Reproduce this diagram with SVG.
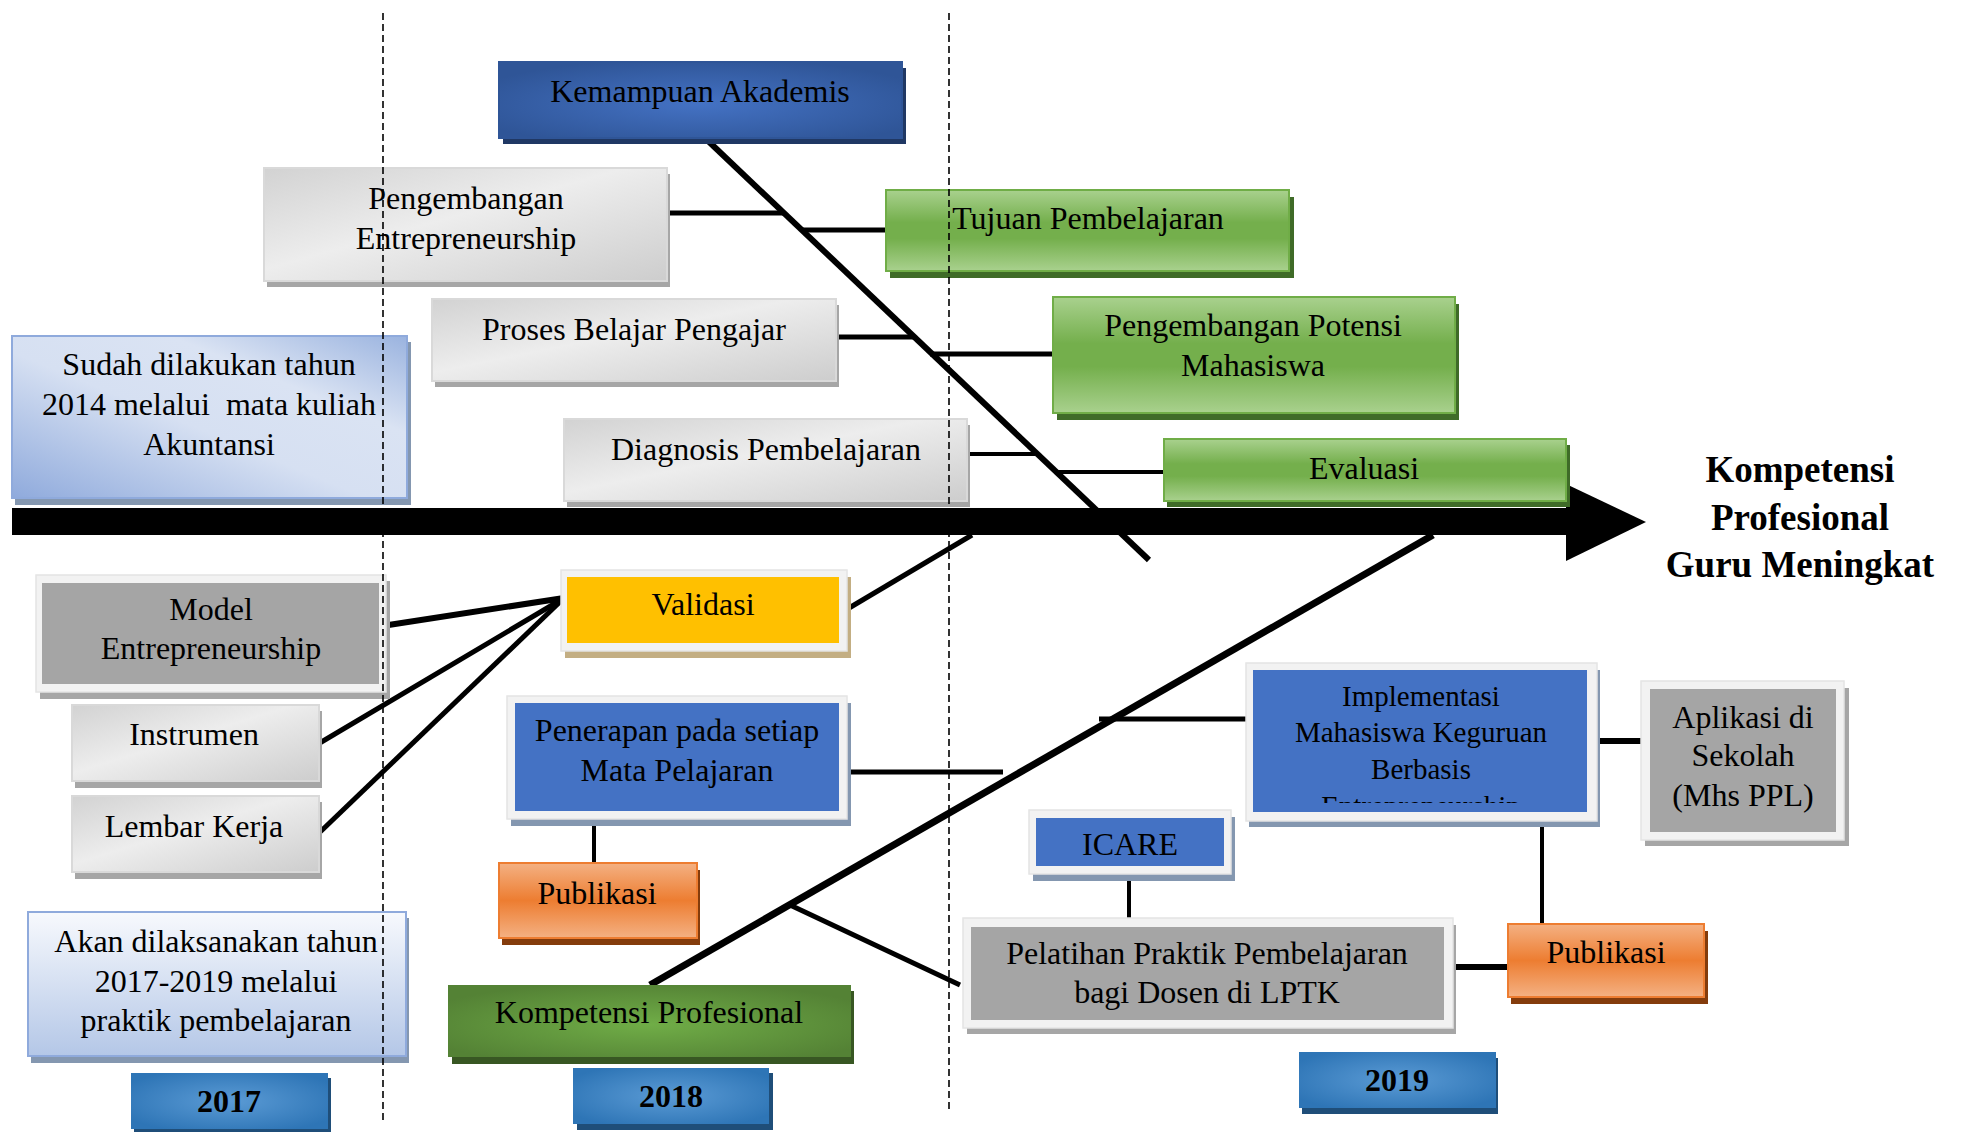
<svg xmlns="http://www.w3.org/2000/svg" width="1961" height="1132" viewBox="0 0 1961 1132">
<style>
text{font-family:"Liberation Serif","Times New Roman",serif;font-size:32px;fill:#000;text-anchor:middle}
.t29{font-size:29px}
.bold{font-weight:bold}
.title{font-weight:bold;font-size:37px}
.ln{stroke:#000;stroke-width:5;fill:none;stroke-linecap:butt}
.bone{stroke:#000;stroke-width:7;fill:none}
.dash{stroke:#000;stroke-width:1.6;stroke-dasharray:7 4;fill:none}
.shGray{fill:#a6a6a6}
.shBlue{fill:#8497b0}
.frame{fill:#f2f2f2;stroke:#e4e4e4;stroke-width:1.5}
.gray{fill:url(#gGray);stroke:#d9d9d9;stroke-width:2}
.green{fill:url(#gGreen);stroke:#70ad47;stroke-width:2}
.shGreen{fill:#3f6b28}
.orange{fill:url(#gOrange);stroke:#ed7d31;stroke-width:2}
.shOrange{fill:#843c0c}
.year{fill:url(#gYear)}
.shYear{fill:#1f4e79}
</style>
<defs>
<linearGradient id="gGray" x1="0" y1="0" x2="1" y2="1">
<stop offset="0" stop-color="#d2d2d2"/>
<stop offset="0.45" stop-color="#ededed"/>
<stop offset="1" stop-color="#cdcdcd"/>
</linearGradient>
<linearGradient id="gGreen" x1="0" y1="0" x2="0" y2="1">
<stop offset="0" stop-color="#a9d18e"/>
<stop offset="0.4" stop-color="#74af4c"/>
<stop offset="0.6" stop-color="#74af4c"/>
<stop offset="1" stop-color="#a9d18e"/>
</linearGradient>
<linearGradient id="gOrange" x1="0" y1="0" x2="0" y2="1">
<stop offset="0" stop-color="#f4b183"/>
<stop offset="0.5" stop-color="#ed7d31"/>
<stop offset="1" stop-color="#f4b183"/>
</linearGradient>
<radialGradient id="gDarkBlue" cx="0.5" cy="0.55" r="0.6">
<stop offset="0" stop-color="#4472c4"/>
<stop offset="1" stop-color="#2f5597"/>
</radialGradient>
<radialGradient id="gYear" cx="0.5" cy="0.5" r="0.6">
<stop offset="0" stop-color="#5b9bd5"/>
<stop offset="1" stop-color="#2e75b6"/>
</radialGradient>
<radialGradient id="gKP" cx="0.5" cy="0.55" r="0.6">
<stop offset="0" stop-color="#70ad47"/>
<stop offset="1" stop-color="#548235"/>
</radialGradient>
<linearGradient id="gSudah" x1="0" y1="1" x2="1" y2="0">
<stop offset="0" stop-color="#8faadc"/>
<stop offset="0.45" stop-color="#d6e0f2"/>
<stop offset="0.7" stop-color="#dae3f3"/>
<stop offset="1" stop-color="#9ab3df"/>
</linearGradient>
<linearGradient id="gAkan" x1="0" y1="0" x2="0" y2="1">
<stop offset="0" stop-color="#f7f9fd"/>
<stop offset="1" stop-color="#b4c7e7"/>
</linearGradient>
<clipPath id="clipImpl"><rect x="1253" y="670" width="334" height="133"/></clipPath>
</defs>

<g id="connectors">
<rect x="12" y="508" width="1556" height="27" fill="#000"/>
<polygon points="1566,484 1646,522 1566,561" fill="#000"/>
<line class="ln" x1="705" y1="138" x2="1149" y2="560" style="stroke-width:6"/>
<line class="ln" x1="667" y1="213" x2="785" y2="213"/>
<line class="ln" x1="801" y1="230" x2="886" y2="230"/>
<line class="ln" x1="836" y1="337" x2="915" y2="337"/>
<line class="ln" x1="930" y1="354" x2="1053" y2="354"/>
<line class="ln" x1="967" y1="454" x2="1035" y2="454" style="stroke-width:4"/>
<line class="ln" x1="1055" y1="472" x2="1164" y2="472" style="stroke-width:4"/>
<line class="ln" x1="382" y1="626" x2="564" y2="598" style="stroke-width:6"/>
<line class="ln" x1="318" y1="744" x2="564" y2="598"/>
<line class="ln" x1="318" y1="834" x2="564" y2="598"/>
<line class="ln" x1="844" y1="611" x2="972" y2="535"/>
<line class="bone" x1="650" y1="985" x2="1433" y2="535"/>
<line class="ln" x1="847" y1="772" x2="1003" y2="772"/>
<line class="ln" x1="594" y1="815" x2="594" y2="863" style="stroke-width:4"/>
<line class="ln" x1="790" y1="905" x2="960" y2="985"/>
<line class="ln" x1="1099" y1="719" x2="1246" y2="719"/>
<line class="ln" x1="1597" y1="741" x2="1645" y2="741" style="stroke-width:6"/>
<line class="ln" x1="1542" y1="812" x2="1542" y2="924" style="stroke-width:4"/>
<line class="ln" x1="1129" y1="874" x2="1129" y2="919" style="stroke-width:4"/>
<line class="ln" x1="1449" y1="967" x2="1508" y2="967" style="stroke-width:6"/>
</g>

<g id="kemampuan-akademis">
<rect x="503" y="68" width="403" height="76" fill="#203864"/>
<rect x="499" y="62" width="403" height="76" fill="url(#gDarkBlue)" stroke="#2f5597" stroke-width="2"/>
<text x="700" y="102">Kemampuan Akademis</text>
</g>

<g id="pengembangan-entrepreneurship">
<rect class="shGray" x="267" y="174" width="403" height="113"/>
<rect class="gray" x="264" y="168" width="403" height="113"/>
<text x="466" y="209">Pengembangan</text>
<text x="466" y="249">Entrepreneurship</text>
</g>

<g id="proses-belajar-pengajar">
<rect class="shGray" x="435" y="305" width="404" height="82"/>
<rect class="gray" x="432" y="299" width="404" height="82"/>
<text x="634" y="340">Proses Belajar Pengajar</text>
</g>

<g id="diagnosis-pembelajaran">
<rect class="shGray" x="567" y="425" width="403" height="82"/>
<rect class="gray" x="564" y="419" width="403" height="82"/>
<text x="766" y="460">Diagnosis Pembelajaran</text>
</g>

<g id="sudah-dilakukan">
<rect x="15" y="342" width="396" height="163" fill="#8497b0"/>
<rect x="12" y="336" width="395" height="162" fill="url(#gSudah)" stroke="#8faadc" stroke-width="2"/>
<text x="209" y="375">Sudah dilakukan tahun</text>
<text x="209" y="415" style="white-space:pre">2014 melalui  mata kuliah</text>
<text x="209" y="455">Akuntansi</text>
</g>

<g id="tujuan-pembelajaran">
<rect class="shGreen" x="890" y="197" width="404" height="81"/>
<rect class="green" x="886" y="190" width="403" height="81"/>
<text x="1088" y="229">Tujuan Pembelajaran</text>
</g>

<g id="pengembangan-potensi">
<rect class="shGreen" x="1057" y="304" width="402" height="116"/>
<rect class="green" x="1053" y="297" width="402" height="116"/>
<text x="1253" y="336">Pengembangan Potensi</text>
<text x="1253" y="376">Mahasiswa</text>
</g>

<g id="evaluasi">
<rect class="shGreen" x="1167" y="445" width="403" height="62"/>
<rect class="green" x="1164" y="439" width="402" height="62"/>
<text x="1364" y="479">Evaluasi</text>
</g>

<g id="kompetensi-profesional-meningkat">
<text class="title" x="1800" y="482">Kompetensi</text>
<text class="title" x="1800" y="530">Profesional</text>
<text class="title" x="1800" y="577">Guru Meningkat</text>
</g>

<g id="model-entrepreneurship">
<rect class="shGray" x="40" y="581" width="350" height="118"/>
<rect class="frame" x="36" y="575" width="350" height="117"/>
<rect x="42" y="583" width="337" height="101" fill="#a5a5a5"/>
<text x="211" y="620">Model</text>
<text x="211" y="659">Entrepreneurship</text>
</g>

<g id="instrumen">
<rect class="shGray" x="75" y="711" width="247" height="77"/>
<rect class="gray" x="72" y="705" width="247" height="76"/>
<text x="194" y="745">Instrumen</text>
</g>

<g id="lembar-kerja">
<rect class="shGray" x="75" y="802" width="247" height="77"/>
<rect class="gray" x="72" y="796" width="247" height="76"/>
<text x="194" y="837">Lembar Kerja</text>
</g>

<g id="validasi">
<rect x="565" y="577" width="286" height="81" fill="#c3ae83"/>
<rect class="frame" x="561" y="570" width="286" height="81"/>
<rect x="567" y="577" width="272" height="66" fill="#ffc000"/>
<text x="703" y="615">Validasi</text>
</g>

<g id="penerapan">
<rect class="shBlue" x="511" y="703" width="340" height="123"/>
<rect class="frame" x="507" y="696" width="340" height="123"/>
<rect x="515" y="703" width="324" height="108" fill="#4472c4"/>
<text x="677" y="741">Penerapan pada setiap</text>
<text x="677" y="781">Mata Pelajaran</text>
</g>

<g id="publikasi-1">
<rect class="shOrange" x="502" y="870" width="198" height="75"/>
<rect class="orange" x="499" y="863" width="198" height="75"/>
<text x="597" y="904">Publikasi</text>
</g>

<g id="akan-dilaksanakan">
<rect x="31" y="918" width="378" height="145" fill="#8497b0"/>
<rect x="28" y="912" width="378" height="144" fill="url(#gAkan)" stroke="#8faadc" stroke-width="2"/>
<text x="216" y="952">Akan dilaksanakan tahun</text>
<text x="216" y="992">2017-2019 melalui</text>
<text x="216" y="1031">praktik pembelajaran</text>
</g>

<g id="kompetensi-profesional">
<rect x="452" y="991" width="402" height="73" fill="#385723"/>
<rect x="448" y="985" width="403" height="72" fill="url(#gKP)"/>
<text x="649" y="1023">Kompetensi Profesional</text>
</g>

<g id="year-2017">
<rect class="shYear" x="134" y="1078" width="197" height="56"/>
<rect class="year" x="131" y="1073" width="197" height="56"/>
<text class="bold" x="229" y="1112">2017</text>
</g>

<g id="year-2018">
<rect class="shYear" x="577" y="1073" width="196" height="57"/>
<rect class="year" x="573" y="1068" width="196" height="56"/>
<text class="bold" x="671" y="1107">2018</text>
</g>

<g id="implementasi">
<rect class="shBlue" x="1249" y="670" width="351" height="157"/>
<rect class="frame" x="1246" y="663" width="351" height="158"/>
<rect x="1253" y="670" width="334" height="142" fill="#4472c4"/>
<g clip-path="url(#clipImpl)">
<text class="t29" x="1421" y="706">Implementasi</text>
<text class="t29" x="1421" y="742">Mahasiswa Keguruan</text>
<text class="t29" x="1421" y="779">Berbasis</text>
<text class="t29" x="1421" y="816">Entrepreneurship</text>
</g>
</g>

<g id="aplikasi-sekolah">
<rect class="shGray" x="1645" y="688" width="204" height="158"/>
<rect class="frame" x="1641" y="681" width="203" height="159"/>
<rect x="1650" y="689" width="186" height="143" fill="#a5a5a5"/>
<text x="1743" y="728">Aplikasi di</text>
<text x="1743" y="766">Sekolah</text>
<text x="1743" y="806">(Mhs PPL)</text>
</g>

<g id="icare">
<rect class="shBlue" x="1033" y="817" width="202" height="64"/>
<rect class="frame" x="1029" y="810" width="202" height="64"/>
<rect x="1036" y="818" width="188" height="48" fill="#4472c4"/>
<text x="1130" y="855">ICARE</text>
</g>

<g id="pelatihan">
<rect class="shGray" x="967" y="925" width="489" height="109"/>
<rect class="frame" x="963" y="918" width="490" height="110"/>
<rect x="971" y="927" width="473" height="93" fill="#a5a5a5"/>
<text x="1207" y="964">Pelatihan Praktik Pembelajaran</text>
<text x="1207" y="1003">bagi Dosen di LPTK</text>
</g>

<g id="publikasi-2">
<rect class="shOrange" x="1511" y="931" width="197" height="73"/>
<rect class="orange" x="1508" y="924" width="196" height="73"/>
<text x="1606" y="963">Publikasi</text>
</g>

<g id="year-2019">
<rect class="shYear" x="1302" y="1058" width="196" height="56"/>
<rect class="year" x="1299" y="1052" width="197" height="56"/>
<text class="bold" x="1397" y="1091">2019</text>
</g>

<g id="guides">
<line class="dash" x1="383" y1="13" x2="383" y2="1120"/>
<line class="dash" x1="949" y1="13" x2="949" y2="1113"/>
</g>
</svg>
